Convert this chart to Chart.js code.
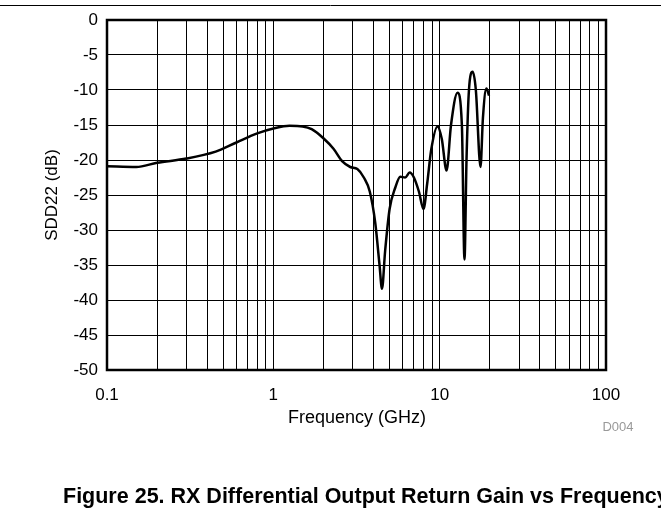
<!DOCTYPE html>
<html>
<head>
<meta charset="utf-8">
<script src="https://cdn.jsdelivr.net/npm/chart.js@4"></script>
<style>
  html, body { margin: 0; padding: 0; background: #fff; overflow: hidden; }
  #wrap { position: relative; width: 661px; height: 512px; }
</style>
</head>
<body>
<div id="wrap"><canvas id="sddChart" width="661" height="512"></canvas></div>
<script>
// Frequency (GHz) and SDD22 (dB)
const freqGHz = [0.1, 0.15, 0.2, 0.3, 0.45, 0.6, 0.8, 1.0, 1.25, 1.5, 1.7, 2.0, 2.3, 2.6, 2.9, 3.2,
  3.5, 3.8, 4.1, 4.35, 4.5, 4.7, 5.0, 5.4, 5.8, 6.2, 6.6, 7.0, 7.5, 8.0, 8.4, 8.9, 9.7, 10.3,
  11.0, 11.7, 12.8, 13.6, 14.1, 14.5, 15.0, 15.8, 16.5, 17.6, 18.2, 19.1, 19.8];
const sdd22 = [-20.9, -21.0, -20.4, -19.8, -18.8, -17.5, -16.2, -15.5, -15.1, -15.2, -15.6, -16.9, -18.4, -20.2, -21.0, -21.3,
  -22.5, -24.5, -29.0, -35.0, -38.4, -33.0, -27.0, -24.0, -22.4, -22.5, -21.8, -22.5, -24.5, -27.0, -23.5, -18.5, -15.2, -17.0,
  -21.5, -15.0, -10.4, -15.0, -34.2, -20.0, -10.0, -7.4, -10.0, -21.0, -14.0, -9.8, -10.8];

// log grid: 1..9 in each decade
const xGridValues = [0.1, 0.2, 0.3, 0.4, 0.5, 0.6, 0.7, 0.8, 0.9,
  1, 2, 3, 4, 5, 6, 7, 8, 9, 10, 20, 30, 40, 50, 60, 70, 80, 90, 100];
const xLabelValues = [0.1, 1, 10, 100];

const FONT = "'Liberation Sans', Arial, sans-serif";

const decorPlugin = {
    id: 'decor',
    afterDraw(chart) {
        const ctx = chart.ctx;
        const a = chart.chartArea;
        ctx.save();
        // frame around plot
        ctx.strokeStyle = '#000';
        ctx.lineWidth = 2.5;
        ctx.strokeRect(a.left, a.top, a.right - a.left, a.bottom - a.top);
        // rule at the top of the page
        ctx.lineWidth = 1;
        ctx.beginPath();
        ctx.moveTo(0, 5.5);
        ctx.lineTo(661, 5.5);
        ctx.stroke();
        // axis titles
        ctx.fillStyle = '#000';
        ctx.font = '18px ' + FONT;
        ctx.textAlign = 'center';
        ctx.textBaseline = 'middle';
        ctx.fillText('Frequency (GHz)', 357, 418);
        ctx.save();
        ctx.translate(52, (a.top + a.bottom) / 2);
        ctx.rotate(-Math.PI / 2);
        ctx.font = '17px ' + FONT;
        ctx.fillText('SDD22 (dB)', 0, 0);
        ctx.restore();
        // figure id
        ctx.fillStyle = '#999';
        ctx.font = '13px ' + FONT;
        ctx.fillText('D004', 618, 427);
        // caption (runs off the right edge in the original)
        ctx.fillStyle = '#000';
        ctx.font = 'bold 21.5px ' + FONT;
        ctx.textAlign = 'left';
        ctx.textBaseline = 'alphabetic';
        ctx.fillText('Figure 25. RX Differential Output Return Gain vs Frequency', 63, 503);
        ctx.restore();
    }
};

const ctx = document.getElementById('sddChart').getContext('2d');
new Chart(ctx, {
    type: 'line',
    data: {
        datasets: [{
            data: freqGHz.map((f, i) => ({ x: f, y: sdd22[i] })),
            borderColor: '#000',
            borderWidth: 2.5,
            pointRadius: 0,
            fill: false,
            cubicInterpolationMode: 'monotone'
        }]
    },
    options: {
        responsive: false,
        animation: false,
        layout: { padding: { left: 0, top: 20, right: 55, bottom: 0 } },
        plugins: {
            legend: { display: false },
            tooltip: { enabled: false }
        },
        scales: {
            x: {
                type: 'logarithmic',
                min: 0.1,
                max: 100,
                afterBuildTicks: scale => {
                    scale.ticks = xGridValues.map(v => ({ value: v }));
                },
                afterFit: scale => { scale.height = 142; },
                grid: { color: '#000', lineWidth: 1, drawTicks: false },
                border: { display: false },
                ticks: {
                    color: '#000',
                    font: { size: 17, family: FONT },
                    padding: 15,
                    maxRotation: 0,
                    autoSkip: false,
                    callback: (v) => xLabelValues.includes(v) ? String(v) : ''
                }
            },
            y: {
                min: -50,
                max: 0,
                afterFit: scale => { scale.width = 107; },
                grid: { color: '#000', lineWidth: 1, drawTicks: false },
                border: { display: false },
                ticks: {
                    stepSize: 5,
                    color: '#000',
                    font: { size: 17, family: FONT },
                    padding: 9
                }
            }
        }
    },
    plugins: [decorPlugin]
});
</script>
</body>
</html>
